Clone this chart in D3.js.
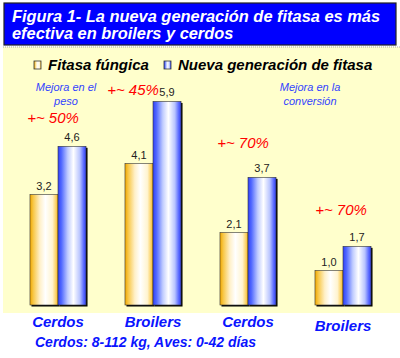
<!DOCTYPE html>
<html><head><meta charset="utf-8">
<script src="https://cdn.jsdelivr.net/npm/d3@7"></script>
<style>html,body{margin:0;padding:0;background:#fff;}svg{display:block;}</style>
</head><body>
<script>
const categories = ["Cerdos", "Broilers", "Cerdos", "Broilers"];
const seriesNames = ["Fitasa fúngica", "Nueva generación de fitasa"];
const fitasaFungica = [3.2, 4.1, 2.1, 1.0];
const nuevaGeneracion = [4.6, 5.9, 3.7, 1.7];
const improvements = ["+~ 50%", "+~ 45%", "+~ 70%", "+~ 70%"];
const titleLines = ["Figura 1- La nueva generación de fitasa es más", "efectiva en broilers y cerdos"];
const noteWeight = ["Mejora en el", "peso"];
const noteConversion = ["Mejora en la", "conversión"];
const footnote = "Cerdos: 8-112 kg, Aves: 0-42 días";

const W = 400, H = 358;
const svg = d3.select("body").append("svg").attr("width", W).attr("height", H);
const defs = svg.append("defs");

function grad(id, stops) {
  const g = defs.append("linearGradient").attr("id", id).attr("x1", "0").attr("x2", "1").attr("y1", "0").attr("y2", "0");
  stops.forEach(s => g.append("stop").attr("offset", s[0]).attr("stop-color", s[1]));
}
grad("gy", [[0, "#f0a800"], [0.12, "#f8c848"], [0.35, "#fff0c8"], [0.55, "#ffffff"], [0.8, "#fff4d0"], [0.93, "#fcd060"], [1, "#f0b020"]]);
grad("gb", [[0, "#3040f8"], [0.12, "#5068ff"], [0.35, "#c0ccff"], [0.55, "#ffffff"], [0.78, "#b8c4ff"], [0.92, "#5868ff"], [1, "#3040f0"]]);

// title box
svg.append("rect").attr("x", 4).attr("y", 3).attr("width", 392).attr("height", 42)
  .attr("fill", "#0000ff").attr("stroke", "#222").attr("stroke-width", 1.2);
svg.append("g").selectAll("text").data(titleLines).join("text")
  .attr("x", 12).attr("y", (d, i) => 22 + i * 17)
  .attr("fill", "#fff").attr("font-family", "Liberation Sans, Arial, sans-serif")
  .attr("font-weight", "bold").attr("font-style", "italic").attr("font-size", 16.4)
  .text(d => d);

// yellow panel
svg.append("rect").attr("x", 3).attr("y", 47).attr("width", 397).attr("height", 266).attr("fill", "#ffffcc");
svg.append("line").attr("x1", 3).attr("x2", 400).attr("y1", 47).attr("y2", 47)
  .attr("stroke", "#aaa").attr("stroke-dasharray", "1,1");

// scales
const x0 = d3.scaleBand().domain(d3.range(categories.length)).range([10.5, 390.5]).paddingInner(0.41).paddingOuter(0.205);
const x1 = d3.scaleBand().domain([0, 1]).range([0, x0.bandwidth()]);
const y = d3.scaleLinear().domain([0, 7]).range([305, 305 - 7 * 34.5]);

const series = [fitasaFungica, nuevaGeneracion];
const fills = ["url(#gy)", "url(#gb)"];

const groups = svg.append("g").selectAll("g").data(categories).join("g")
  .attr("transform", (d, i) => `translate(${x0(i)},0)`);

series.forEach((vals, s) => {
  groups.append("rect")
    .attr("x", x1(s) + 1.5).attr("y", (d, i) => y(vals[i]) + 1.5)
    .attr("width", x1.bandwidth()).attr("height", (d, i) => y(0) - y(vals[i]))
    .attr("fill", "#000");
  groups.append("rect")
    .attr("x", x1(s)).attr("y", (d, i) => y(vals[i]))
    .attr("width", x1.bandwidth()).attr("height", (d, i) => y(0) - y(vals[i]))
    .attr("fill", fills[s]).attr("stroke", "#333").attr("stroke-width", 0.6);
  groups.append("text")
    .attr("x", x1(s) + x1.bandwidth() / 2).attr("y", (d, i) => y(vals[i]) - 5)
    .attr("text-anchor", "middle").attr("font-family", "Liberation Sans, Arial, sans-serif")
    .attr("font-size", 11).attr("fill", "#222")
    .text((d, i) => d3.format(".1f")(vals[i]).replace(".", ","));
});

// category labels
groups.append("text")
  .attr("x", x0.bandwidth() / 2).attr("y", (d, i) => i === 3 ? 331 : 327)
  .attr("text-anchor", "middle").attr("fill", "#0a14ff")
  .attr("font-family", "Liberation Sans, Arial, sans-serif").attr("font-weight", "bold")
  .attr("font-style", "italic").attr("font-size", 15).text(d => d);

// improvement labels
const impPos = [[53, 123], [133, 95], [243, 148], [341, 215]];
svg.append("g").selectAll("text").data(improvements).join("text")
  .attr("x", (d, i) => impPos[i][0]).attr("y", (d, i) => impPos[i][1])
  .attr("text-anchor", "middle").attr("fill", "#ff0000")
  .attr("font-family", "Liberation Sans, Arial, sans-serif").attr("font-style", "italic")
  .attr("font-size", 15).text(d => d);

// notes
function note(lines, cx) {
  svg.append("g").selectAll("text").data(lines).join("text")
    .attr("x", cx).attr("y", (d, i) => 91 + i * 14)
    .attr("text-anchor", "middle").attr("fill", "#3344ff")
    .attr("font-family", "Liberation Sans, Arial, sans-serif").attr("font-style", "italic")
    .attr("font-size", 11).text(d => d);
}
note(noteWeight, 66);
note(noteConversion, 310);

// legend
const legX = [34, 164];
const lg = svg.append("g").selectAll("g").data(seriesNames).join("g")
  .attr("transform", (d, i) => `translate(${legX[i]},60)`);
lg.append("rect").attr("width", 7).attr("height", 8).attr("y", 1)
  .attr("fill", (d, i) => fills[i]).attr("stroke", "#333").attr("stroke-width", 0.8);
lg.append("text").attr("x", 14).attr("y", 9.5)
  .attr("font-family", "Liberation Sans, Arial, sans-serif").attr("font-weight", "bold")
  .attr("font-style", "italic").attr("font-size", 15).attr("fill", "#000").text(d => d);

// footnote
svg.append("text").attr("x", 35).attr("y", 347).attr("fill", "#0a14ff")
  .attr("font-family", "Liberation Sans, Arial, sans-serif").attr("font-weight", "bold")
  .attr("font-style", "italic").attr("font-size", 14).text(footnote);
</script>
</body></html>
